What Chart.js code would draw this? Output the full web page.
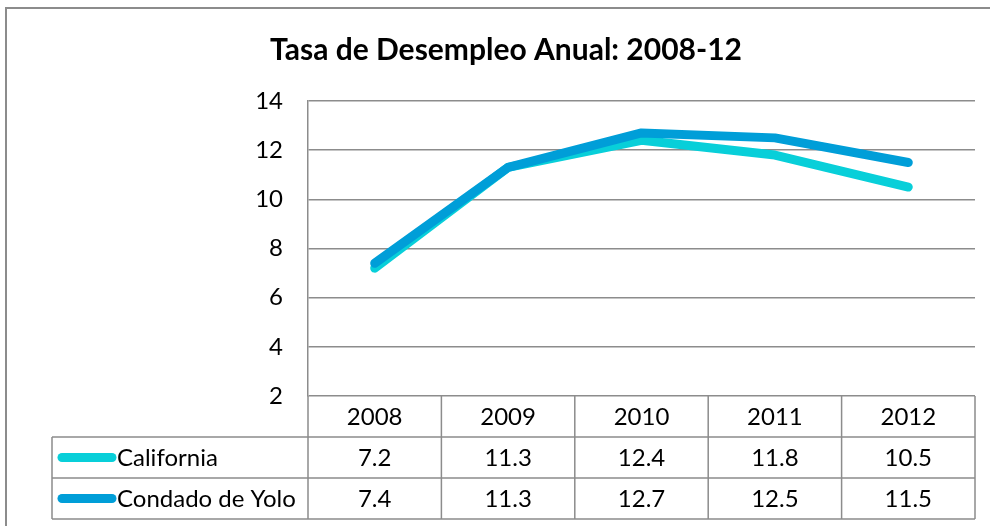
<!DOCTYPE html>
<html>
<head>
<meta charset="utf-8">
<script src="https://cdn.jsdelivr.net/npm/chart.js@4.4.1/dist/chart.umd.min.js"></script>
<style>
  html, body { margin: 0; padding: 0; background: #fff; }
  #wrap { width: 990px; height: 526px; }
</style>
</head>
<body>
<div id="wrap"><canvas id="chart" width="990" height="526"></canvas></div>
<script>
// datos
const chartTitle = "Tasa de Desempleo Anual: 2008-12";
const years = ["2008", "2009", "2010", "2011", "2012"];
const california = [7.2, 11.3, 12.4, 11.8, 10.5];
const yolo = [7.4, 11.3, 12.7, 12.5, 11.5];
const yTicks = [2, 4, 6, 8, 10, 12, 14];

const seriesNames = ["California", "Condado de Yolo"];
const seriesColors = ["#08cfd9", "#009ed8"];
const gridColor = "#8c8c8c";
const fontFamily = "Lato, 'Open Sans', sans-serif";

// marco, titulo y tabla de datos (estilo Excel)
const frameAndTable = {
  id: "frameAndTable",
  beforeDraw(chart) {
    const { ctx } = chart;
    ctx.save();
    ctx.fillStyle = "#fff";
    ctx.fillRect(0, 0, chart.width, chart.height);
    ctx.strokeStyle = gridColor;
    ctx.lineWidth = 2;
    ctx.strokeRect(6, 8, 1010, 600);
    ctx.restore();
  },
  afterDraw(chart) {
    const { ctx, chartArea: a } = chart;
    const n = years.length;
    const w = (a.right - a.left) / n;
    const rowH = 41;
    const top = a.bottom;
    const tableLeft = 52;
    const rows = [california, yolo];

    ctx.save();
    // titulo
    ctx.fillStyle = "#000";
    ctx.font = "bold 30px " + fontFamily;
    ctx.textAlign = "center";
    ctx.textBaseline = "middle";
    ctx.fillText(chartTitle, 506, 50);

    // lineas de la tabla
    ctx.strokeStyle = gridColor;
    ctx.lineWidth = 1.5;
    ctx.beginPath();
    for (let i = 0; i <= n; i++) {
      const x = a.left + i * w;
      ctx.moveTo(x, top);
      ctx.lineTo(x, top + rowH * 3);
    }
    for (let r = 1; r <= 3; r++) {
      ctx.moveTo(tableLeft, top + r * rowH);
      ctx.lineTo(a.right, top + r * rowH);
    }
    ctx.moveTo(tableLeft, top + rowH);
    ctx.lineTo(tableLeft, top + rowH * 3);
    ctx.stroke();

    // textos
    ctx.fillStyle = "#000";
    ctx.font = "24px " + fontFamily;
    ctx.textAlign = "center";
    years.forEach((yr, i) => {
      ctx.fillText(yr, a.left + (i + 0.5) * w, top + rowH / 2 + 1);
    });
    rows.forEach((vals, r) => {
      const cy = top + (r + 1.5) * rowH + 1;
      vals.forEach((v, i) => {
        ctx.fillText(v.toFixed(1), a.left + (i + 0.5) * w, cy);
      });
    });

    // leyenda dentro de la tabla
    seriesNames.forEach((name, r) => {
      const cy = top + (r + 1.5) * rowH;
      ctx.strokeStyle = seriesColors[r];
      ctx.lineWidth = 9;
      ctx.lineCap = "round";
      ctx.beginPath();
      ctx.moveTo(62, cy);
      ctx.lineTo(112, cy);
      ctx.stroke();
      ctx.textAlign = "left";
      ctx.fillText(name, 117, cy + 1);
    });
    ctx.restore();
  }
};

new Chart(document.getElementById("chart"), {
  type: "line",
  data: {
    labels: years,
    datasets: [
      {
        label: seriesNames[0],
        data: california,
        borderColor: seriesColors[0],
        borderWidth: 9,
        borderCapStyle: "round",
        borderJoinStyle: "round",
        pointRadius: 0,
        tension: 0,
        order: 2
      },
      {
        label: seriesNames[1],
        data: yolo,
        borderColor: seriesColors[1],
        borderWidth: 9,
        borderCapStyle: "round",
        borderJoinStyle: "round",
        pointRadius: 0,
        tension: 0,
        order: 1
      }
    ]
  },
  options: {
    responsive: false,
    animation: false,
    devicePixelRatio: 1,
    layout: { padding: { top: 101, bottom: 130, left: 0, right: 15 } },
    plugins: {
      legend: { display: false },
      title: { display: false },
      tooltip: { enabled: false }
    },
    scales: {
      x: {
        display: false,
        offset: true
      },
      y: {
        min: 2,
        max: 14,
        afterFit: (scale) => { scale.width = 308; },
        afterBuildTicks: (scale) => { scale.ticks = yTicks.map((v) => ({ value: v })); },
        grid: { color: gridColor, lineWidth: 1.5, drawTicks: false },
        border: { display: true, color: gridColor, width: 1.5 },
        ticks: {
          padding: 25,
          color: "#000",
          font: { family: fontFamily, size: 24 }
        }
      }
    }
  },
  plugins: [frameAndTable]
});
</script>
</body>
</html>
